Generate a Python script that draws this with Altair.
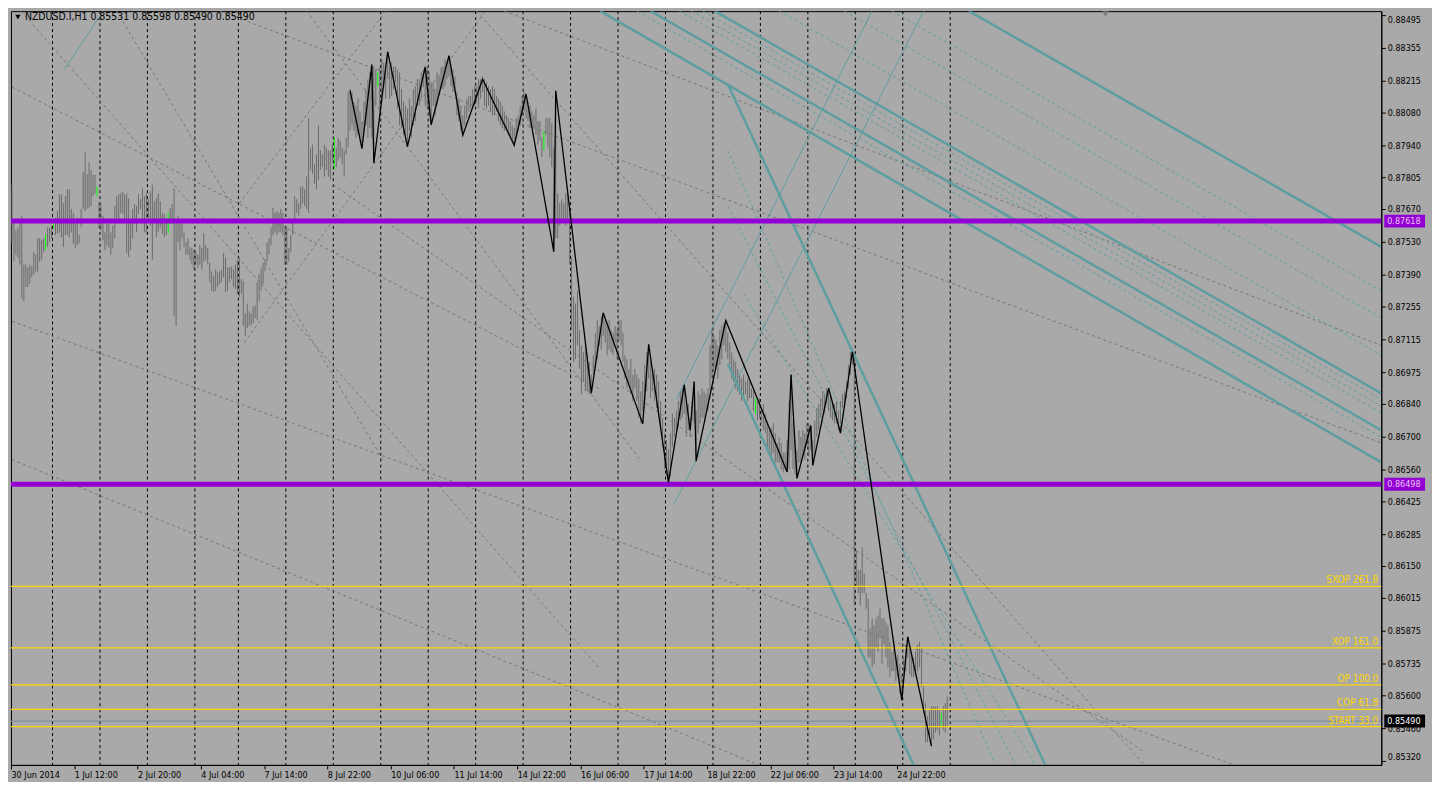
import json
import altair as alt
import pandas as pd

# ---------------- data ----------------
# hourly bars (index 0 = 30 Jun 2014 first bar), prices in points (1e-5)
bar_hi = [
 87773,87620,87578,87591,87628,87641,87433,87433,87421,87433,
 87425,87487,87475,87545,87545,87537,87545,87562,87591,87591,
 87599,87611,87632,87661,87732,87732,87694,87724,87753,87753,
 87670,87653,87620,87632,87558,87670,87827,87910,87819,87869,
 87836,87815,87815,87765,87694,87690,87641,87570,87611,87607,
 87570,87599,87682,87724,87732,87736,87744,87732,87736,87715,
 87611,87670,87690,87682,87732,87711,87757,87724,87736,87711,
 87744,87773,87703,87715,87736,87703,87653,87649,87632,87653,
 87674,87690,87757,87628,87641,87620,87607,87570,87528,87545,
 87508,87504,87495,87487,87475,87516,87504,87566,87516,87504,
 87441,87404,87383,87412,87400,87404,87412,87483,87462,87421,
 87421,87425,87412,87433,87454,87462,87371,87362,87226,87267,
 87234,87226,87255,87259,87358,87391,87421,87441,87454,87528,
 87545,87591,87674,87653,87661,87653,87670,87653,87587,87587,
 87504,87558,87611,87724,87711,87694,87765,87765,87753,87807,
 88056,87931,87943,87860,87902,88026,87919,87902,87943,87931,
 87919,87919,87943,87973,87931,87973,87960,87931,87919,87973,
 88168,88180,88168,88126,88109,88139,88085,88043,88126,88180,
 88222,88251,88284,88275,88263,88251,88275,88305,88292,88275,
 88338,88275,88292,88275,88275,88263,88251,88180,88126,88109,
 88097,88139,88109,88180,88192,88222,88222,88251,88263,88275,
 88275,88251,88209,88209,88180,88251,88234,88275,88275,88305,
 88292,88321,88275,88263,88234,88168,88139,88109,88068,88109,
 88139,88151,88151,88180,88192,88192,88222,88222,88234,88222,
 88209,88192,88180,88192,88180,88151,88139,88126,88109,88085,
 88068,88056,88043,88026,88014,88056,88068,88109,88151,88168,
 88159,88126,88109,88085,88068,88097,88043,88043,87973,88002,
 88056,88056,88056,88035,87931,88172,87736,87694,87711,87694,
 87736,87736,87694,87462,87296,87267,87321,87155,87089,87060,
 87089,87047,87018,86964,87047,87143,87196,87172,87213,87226,
 87196,87184,87196,87155,87143,87172,87155,87196,87196,87143,
 87047,87030,86989,87030,86964,86989,86964,86947,86894,86935,
 87006,87060,87093,87030,86989,86989,86964,86935,86852,86781,
 86715,86686,86645,86715,86798,86781,86811,86852,86894,86906,
 86923,86852,86840,86781,86852,86935,86811,86894,86881,86906,
 86894,86881,86906,87089,87155,87130,87113,87089,87155,87172,
 87184,87196,87143,87101,87060,87030,87018,86989,86964,86947,
 86964,86935,86947,86935,86906,86894,86865,86852,86865,86823,
 86840,86798,86757,86728,86740,86757,86715,86674,86699,86674,
 86632,86632,86686,86852,86964,86769,86686,86645,86728,86699,
 86728,86715,86757,86757,86748,86686,86769,86823,86840,86865,
 86894,86881,86906,86906,86881,86852,86840,86852,86811,86852,
 86881,86894,86935,87006,87060,87060,87060,86217,86134,86134,
 86230,86117,86035,86010,85885,85927,85898,85927,85939,85968,
 85927,85927,85910,85898,85827,85785,85815,85760,85773,85732,
 85690,85760,85815,85848,85815,85785,85760,85785,85815,85827,
 85802,85636,85566,85512,85536,85553,85553,85553,85553,85536,
 85524,85553,85566,85595]
bar_lo = [
 87524,87445,87475,87462,87433,87288,87275,87338,87338,87350,
 87379,87391,87404,87400,87445,87454,87487,87495,87508,87528,
 87545,87587,87558,87566,87570,87549,87508,87558,87558,87549,
 87570,87524,87504,87516,87524,87591,87670,87661,87670,87674,
 87682,87724,87736,87724,87591,87578,87537,87495,87516,87504,
 87475,87504,87545,87628,87611,87653,87649,87611,87483,87466,
 87495,87545,87607,87570,87649,87670,87628,87570,87570,87620,
 87599,87454,87611,87549,87570,87591,87566,87549,87558,87566,
 87607,87628,87213,87172,87528,87495,87545,87508,87475,87475,
 87454,87433,87412,87433,87421,87433,87412,87445,87454,87433,
 87358,87321,87317,87321,87338,87350,87358,87379,87317,87321,
 87358,87371,87338,87329,87308,87296,87308,87172,87130,87163,
 87172,87176,87184,87205,87196,87279,87321,87350,87404,87445,
 87475,87516,87558,87570,87558,87570,87570,87558,87433,87433,
 87445,87487,87558,87611,87653,87641,87670,87694,87682,87670,
 87653,87836,87819,87777,87753,87794,87836,87848,87807,87836,
 87807,87794,87877,87836,87848,87877,87890,87860,87807,87902,
 87931,88002,88026,88002,87973,87985,87973,87927,87985,88026,
 87973,88014,87973,87865,88109,88192,88085,88126,88180,88139,
 88222,88139,88151,88180,88209,88097,88026,88014,87985,87973,
 87935,88002,87973,88026,88043,88109,88109,88139,88192,88109,
 88097,88068,88026,88109,88068,88109,88151,88180,88180,88192,
 88222,88234,88192,88168,88168,88068,88043,88002,87985,88026,
 88056,88085,88097,88109,88109,88126,88109,88139,88168,88109,
 88097,88109,88085,88068,88068,88085,88043,88026,88014,88002,
 88014,87985,87973,87960,87939,87973,88002,88026,88068,88085,
 88056,88043,88014,88014,88014,87985,87943,87960,87890,87919,
 87985,87931,87890,87848,87487,87545,87545,87599,87611,87611,
 87599,87628,87433,87155,87018,87030,87089,86989,86881,86935,
 86894,86894,86881,86885,86964,86989,87030,87089,87072,87130,
 87101,87047,87072,87060,87047,87101,87030,87113,87089,87018,
 86947,86906,86923,86881,86852,86906,86852,86781,86757,86811,
 86823,86894,86947,86865,86894,86852,86823,86781,86728,86657,
 86562,86532,86508,86532,86657,86699,86728,86740,86769,86781,
 86798,86699,86728,86699,86769,86757,86603,86715,86757,86781,
 86781,86811,86811,86894,86947,86989,86989,86947,87006,87030,
 87089,87060,87030,87006,86947,86935,86906,86894,86881,86852,
 86865,86881,86852,86865,86865,86811,86798,86769,86781,86757,
 86728,86715,86657,86645,86616,86632,86591,86591,86591,86562,
 86549,86562,86549,86562,86645,86562,86541,86524,86591,86591,
 86616,86603,86657,86616,86645,86578,86624,86699,86728,86781,
 86811,86798,86840,86811,86781,86769,86757,86757,86728,86715,
 86823,86840,86865,86906,86964,87006,85981,86064,86035,85981,
 86035,86035,85968,85761,85761,85719,85732,85802,85785,85844,
 85732,85815,85761,85719,85678,85702,85702,85661,85678,85607,
 85578,85690,85702,85761,85690,85678,85678,85690,85702,85719,
 85636,85524,85400,85400,85429,85383,85412,85441,85453,85429,
 85470,85453,85441,85470]
green_bars = [17, 21, 43, 79, 163, 185, 269, 376, 470]

# ZigZag swing points (bar index, price points)
zz_k = [171, 177, 182, 183, 190, 200, 209, 212, 221, 228, 238, 254, 260, 274, 275,
        293, 299, 319, 322, 332, 340, 343, 345, 346, 361, 392, 394, 397, 404, 405,
        413, 419, 425, 450, 453, 465]
zz_p = [88173, 87927, 88284, 87865, 88339, 87935, 88274, 88028, 88322, 87984, 88222,
        87941, 88159, 87488, 88173, 86886, 87228, 86755, 87094, 86506, 86921, 86728,
        86935, 86596, 87195, 86550, 86965, 86523, 86748, 86578, 86907, 86716, 87062,
        85579, 85849, 85383]

# day separators (bar boundaries)
sep_k = [20.5, 44.5, 68.5, 92.5, 114.5, 138.5, 162.5, 186.5, 210.5, 234.5, 258.5,
         282.5, 306.5, 330.5, 354.5, 378.5, 402.5, 426.5, 450.5, 474.5]

# time axis
time_k = [-0.5, 31.5, 63.5, 95.5, 127.5, 159.5, 191.5, 223.5, 255.5, 287.5, 319.5,
          351.5, 383.5, 415.5, 447.5]
time_labels = ["30 Jun 2014", "1 Jul 12:00", "2 Jul 20:00", "4 Jul 04:00", "7 Jul 14:00",
               "8 Jul 22:00", "10 Jul 06:00", "11 Jul 14:00", "14 Jul 22:00", "16 Jul 06:00",
               "17 Jul 14:00", "18 Jul 22:00", "22 Jul 06:00", "23 Jul 14:00", "24 Jul 22:00"]

# price axis
price_ticks = [0.88495, 0.88355, 0.88215, 0.88080, 0.87940, 0.87805, 0.87670, 0.87530,
               0.87390, 0.87255, 0.87115, 0.86975, 0.86840, 0.86700, 0.86560, 0.86425,
               0.86285, 0.86150, 0.86015, 0.85875, 0.85735, 0.85600, 0.85460, 0.85320]
price_domain = [0.853034, 0.885116]

# horizontal levels
purple_levels = [0.87618, 0.86498]
fib_levels = [0.86063, 0.85802, 0.85644, 0.85540, 0.85466]
fib_labels = ["SXOP 261.8", "XOP 161.0", "OP 100.0", "COP 61.8", "START 33.0"]
bid_price = 0.85490

title_text = "NZDUSD.I,H1  0.85531 0.85598 0.85490 0.85490"
shift_marker_bar = 553

# trend lines: (bar1, price1, bar2, price2)
teal_thick = [
    (297.5, 0.88512, 692.5, 0.86591),
    (323.0, 0.88512, 692.5, 0.86728),
    (355.5, 0.88512, 692.5, 0.86885),
    (484.0, 0.88512, 692.5, 0.87508),
    (362.0, 0.88201, 522.5, 0.85304),
    (362.0, 0.87010, 456.0, 0.85304),
]
teal_thin = [
    (26.5, 0.88263, 46.0, 0.88512),
    (336.0, 0.86860, 435.0, 0.88512),
    (335.0, 0.86416, 461.0, 0.88512),
]
teal_dashed = [
    (316.0, 0.88512, 692.5, 0.86698),
    (337.5, 0.88512, 692.5, 0.86802),
    (343.5, 0.88512, 692.5, 0.86831),
    (349.5, 0.88512, 692.5, 0.86860),
    (388.0, 0.88512, 692.5, 0.87047),
    (421.0, 0.88512, 692.5, 0.87205),
    (445.0, 0.88512, 692.5, 0.87321),
    (362.0, 0.87919, 497.5, 0.85304),
    (362.0, 0.87682, 507.5, 0.85304),
    (370.0, 0.87308, 517.5, 0.85304),
]
gray_dashed = [
    (249.0, 0.88512, 692.5, 0.87089),
    (105.0, 0.88512, 692.5, 0.86674),
    (0.0, 0.87192, 617.5, 0.85304),
    (0.0, 0.86603, 377.5, 0.85304),
    (162.5, 0.87773, 572.5, 0.85358),
    (235.0, 0.88512, 572.5, 0.85304),
    (4.5, 0.88512, 297.5, 0.85711),
    (53.0, 0.88512, 187.5, 0.86603),
    (149.0, 0.88512, 317.5, 0.86603),
    (0.0, 0.88188, 297.5, 0.86902),
    (117.5, 0.87101, 239.5, 0.88512),
    (115.0, 0.87694, 189.0, 0.88512),
]

# ---------------- build ----------------
W, H = 1378, 758
BG = "#A9A9A9"
FONT = "DejaVu Sans Condensed, DejaVu Sans"

bars = pd.DataFrame({
    "k": list(range(len(bar_hi))),
    "hi": [v / 1e5 for v in bar_hi],
    "lo": [v / 1e5 for v in bar_lo],
})
bars["col"] = ["#00FF00" if i in green_bars else "#6B6B6B" for i in bars["k"]]
zz = pd.DataFrame({"k": zz_k, "p": [v / 1e5 for v in zz_p]})

xs = alt.Scale(domain=[-0.5, 692.5], nice=False, zero=False)
ys = alt.Scale(domain=price_domain, nice=False, zero=False)

label_expr = f"{json.dumps(time_labels)}[indexof({json.dumps(time_k)}, datum.value)]"
xaxis = alt.Axis(values=time_k, labelExpr=label_expr, labelAlign="left",
                 tickSize=4, tickColor="black", domainColor="black", labelColor="black",
                 labelFont=FONT, labelFontSize=9, labelPadding=2, grid=False, title=None,
                 labelOverlap=False, labelBound=False, labelFlush=False)
yaxis = alt.Axis(orient="right", values=price_ticks, format=".5f", tickSize=4,
                 tickColor="black", domainColor="black", labelColor="black",
                 labelFont=FONT, labelFontSize=9, labelPadding=2, grid=False, title=None,
                 labelOverlap=False, labelBound=False, labelFlush=6)


def X(field):
    return alt.X(field, scale=xs, axis=xaxis)


def Y(field):
    return alt.Y(field, scale=ys, axis=yaxis)


bar_layer = alt.Chart(bars).mark_rule(strokeWidth=1).encode(
    x=X("k:Q"), y=Y("lo:Q"), y2="hi:Q", color=alt.Color("col:N", scale=None))

sep_layer = alt.Chart(pd.DataFrame({"k": sep_k})).mark_rule(
    color="black", strokeDash=[3, 3], strokeWidth=1).encode(x=X("k:Q"))


def seg_layer(lst, **kw):
    df = pd.DataFrame(lst, columns=["x1", "y1", "x2", "y2"])
    return alt.Chart(df).mark_rule(clip=True, **kw).encode(
        x=X("x1:Q"), x2="x2:Q", y=Y("y1:Q"), y2="y2:Q")


gray_layer = seg_layer(gray_dashed, color="#767676", strokeWidth=1, strokeDash=[3, 3])
tdash_layer = seg_layer(teal_dashed, color="#5F9EA0", strokeWidth=1, strokeDash=[3, 3])
tthin_layer = seg_layer(teal_thin, color="#5F9EA0", strokeWidth=1)
tthick_layer = seg_layer(teal_thick, color="#5F9EA0", strokeWidth=2.5)

purple_layer = alt.Chart(pd.DataFrame({"p": purple_levels})).mark_rule(
    color="#9400D3", strokeWidth=5).encode(y=Y("p:Q"))
fib_df = pd.DataFrame({"p": fib_levels, "t": fib_labels})
fib_layer = alt.Chart(fib_df).mark_rule(color="#FFD700", strokeWidth=1.3).encode(y=Y("p:Q"))
fib_text = alt.Chart(fib_df).mark_text(
    color="#FFD700", font=FONT, fontSize=10, align="right", baseline="alphabetic",
    dy=-3).encode(y=Y("p:Q"), x=alt.value(W - 3), text="t:N")
bid_layer = alt.Chart(pd.DataFrame({"p": [bid_price]})).mark_rule(
    color="#7B8B9B", strokeWidth=1).encode(y=Y("p:Q"))

zz_layer = alt.Chart(zz).mark_line(color="black", strokeWidth=1.3).encode(
    x=X("k:Q"), y=Y("p:Q"))

boxes = pd.DataFrame({
    "p": purple_levels + [bid_price],
    "t": [f"{v:.5f}" for v in purple_levels + [bid_price]],
    "bg": ["#9400D3", "#9400D3", "#000000"],
    "fg": ["#E8C8F4", "#E8C8F4", "#FFFFFF"],
})
box_layer = alt.Chart(boxes).mark_rule(strokeWidth=13, strokeCap="butt").encode(
    x=alt.value(W + 3), x2=alt.value(W + 44), y=Y("p:Q"),
    color=alt.Color("bg:N", scale=None))
box_text = alt.Chart(boxes).mark_text(font=FONT, fontSize=9, align="left",
                                      baseline="middle").encode(
    x=alt.value(W + 6), y=Y("p:Q"), text="t:N", color=alt.Color("fg:N", scale=None))

one = pd.DataFrame({"t": [title_text], "k": [shift_marker_bar]})
title_tri = alt.Chart(one).mark_point(shape="triangle-down", filled=True, size=28,
                                      color="black", opacity=1).encode(
    x=alt.value(7), y=alt.value(6))
title_layer = alt.Chart(one).mark_text(font=FONT, fontSize=10.5, align="left",
                                       baseline="middle", color="black").encode(
    x=alt.value(14), y=alt.value(6), text="t:N")
shift_tri = alt.Chart(one).mark_point(shape="triangle-down", filled=True, size=45,
                                      color="#808080", opacity=1).encode(
    x=X("k:Q"), y=alt.value(3))

chart = alt.layer(
    bar_layer, sep_layer, gray_layer, tdash_layer, tthin_layer, tthick_layer,
    purple_layer, fib_layer, bid_layer, fib_text, zz_layer,
    box_layer, box_text, title_tri, title_layer, shift_tri,
).properties(
    width=W, height=H, background=BG, padding=0,
).configure_view(stroke="black", strokeWidth=1).configure_axis(
    labelOverlap=False, grid=False)

chart.save("out.html", embed_options={"renderer": "svg", "actions": False})
